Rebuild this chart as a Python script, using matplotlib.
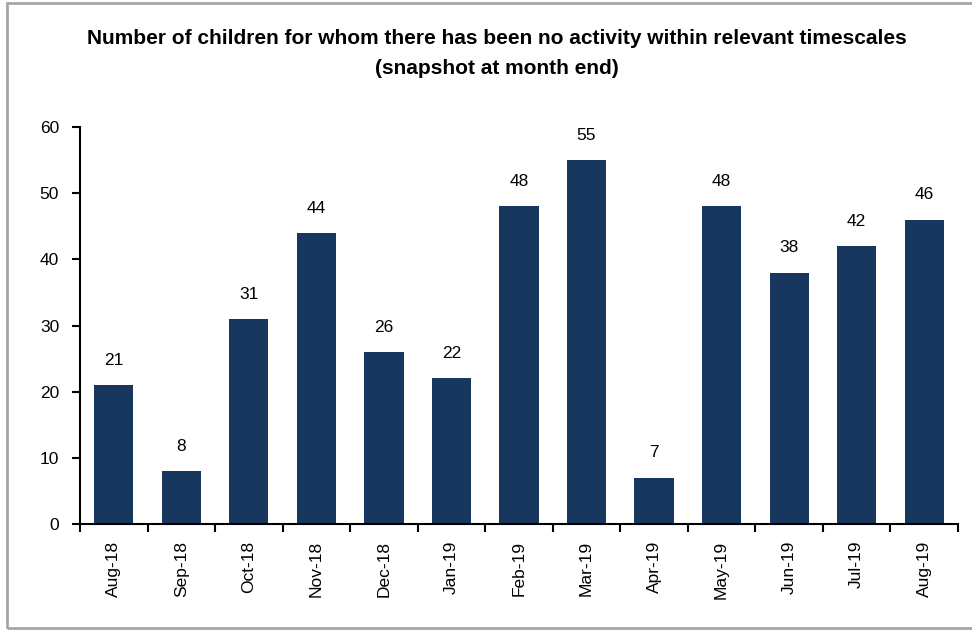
import matplotlib.pyplot as plt
from matplotlib.patches import Rectangle

months = ["Aug-18", "Sep-18", "Oct-18", "Nov-18", "Dec-18", "Jan-19", "Feb-19",
          "Mar-19", "Apr-19", "May-19", "Jun-19", "Jul-19", "Aug-19"]
counts = [21, 8, 31, 44, 26, 22, 48, 55, 7, 48, 38, 42, 46]

plt.rcParams['font.family'] = ['Liberation Sans', 'DejaVu Sans']

fig = plt.figure(figsize=(9.72, 6.31), dpi=100)
ax = fig.add_axes([80/972, 1-524/631, 878/972, 397/631])

x = range(len(months))
ax.bar(x, counts, width=0.58, color="#17375e")
for i, v in zip(x, counts):
    ax.text(i, v + 2.6, str(v), ha="center", va="bottom", fontsize=12.5)

ax.set_xlim(-0.5, len(months) - 0.5)
ax.set_ylim(0, 60)
ax.set_yticks(range(0, 61, 10))
ax.set_xticks(list(x))
ax.set_xticklabels(months, rotation=90, fontsize=12.5)
ax.set_xticks([i - 0.5 for i in range(len(months) + 1)], minor=True)
ax.tick_params(axis="x", which="major", length=0, pad=12)
ax.tick_params(axis="x", which="minor", length=6, width=1.5, direction="out")
ax.tick_params(axis="y", length=6, width=1.5, labelsize=12.5, pad=9)
for s in ["top", "right"]:
    ax.spines[s].set_visible(False)
for s in ["left", "bottom"]:
    ax.spines[s].set_linewidth(1.5)

fig.text(497/972, 1 - 38/631, "Number of children for whom there has been no activity within relevant timescales",
         ha="center", va="center", fontsize=15, fontweight="bold")
fig.text(497/972, 1 - 68/631, "(snapshot at month end)",
         ha="center", va="center", fontsize=15, fontweight="bold")

fig.patches.append(Rectangle((7/972, 3/631), 1.0, 625/631, transform=fig.transFigure,
                             fill=False, edgecolor="#a6a6a6", linewidth=2))

fig.savefig("out.png")
